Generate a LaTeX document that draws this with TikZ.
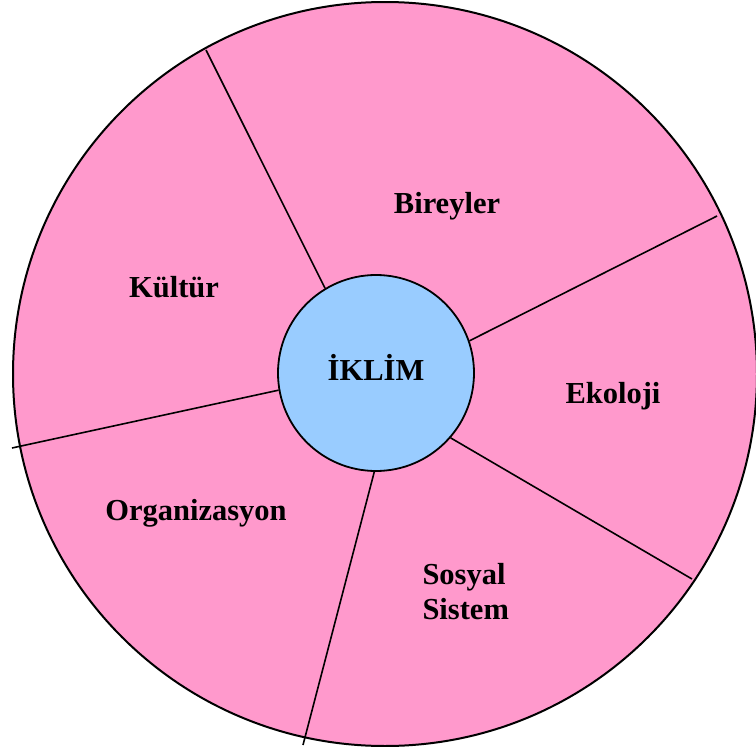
\documentclass[tikz,border=0pt]{standalone}
\usepackage{fontspec}
\setmainfont{Liberation Serif}
\definecolor{sliceink}{RGB}{255,153,204}
\definecolor{coreink}{RGB}{153,204,255}
\begin{document}
\begin{tikzpicture}[x=1pt, y=-1pt,
		spoke/.style={draw=black, line width=1.6pt},
		part/.style={anchor=base, font=\fontsize{30.5}{35}\selectfont\bfseries}]
		\useasboundingbox (0,0) rectangle (756,747);
		\draw[fill=sliceink, line width=2pt] (385,374) circle[radius=372];
		\node[circle, draw, line width=1.8pt, fill=coreink, minimum size=196pt, inner sep=0pt,
			font=\fontsize{30.5}{35}\selectfont\bfseries] (iklim) at (376,373) {\raisebox{11pt}{İKLİM}};
		% outer ends of the dividing lines
		\coordinate (c1) at (206,50);
		\coordinate (c2) at (717,216);
		\coordinate (c3) at (692,579);
		\coordinate (c4) at (303,745);
		\coordinate (c5) at (12,448);
		\draw[spoke] (iklim.121) -- (c1);
		\draw[spoke] (iklim.19) -- (c2);
		\draw[spoke] (iklim.-41) -- (c3);
		\draw[spoke] (iklim.-91) -- (c4);
		\draw[spoke] (iklim.190) -- (c5);
		% the five parts
		\node[part] (bireyler) at (447,213) {Bireyler};
		\node[part] (kultur) at (174,297) {Kültür};
		\node[part] (ekoloji) at (613,403) {Ekoloji};
		\node[part] (organizasyon) at (196,520) {Organizasyon};
		\node[part, anchor=base west, align=left] (sosyal) at (419,619) {Sosyal\\Sistem};
\end{tikzpicture}
\end{document}
